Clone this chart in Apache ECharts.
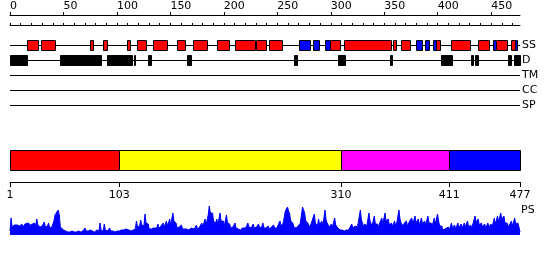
<!DOCTYPE html>
<html><head><meta charset="utf-8">
<script src="https://cdn.jsdelivr.net/npm/echarts@6/dist/echarts.min.js"></script>
<style>html,body{margin:0;padding:0;background:#fff}#c{width:550px;height:260px}</style>
</head><body><div id="c"></div>
<script>
const SEQ_LENGTH = 477;
const trackNames = ['SS', 'D', 'TM', 'CC', 'SP'];
// secondary structure: helix (red) and strand (blue) segments [start, end]
const helixSegments = [[16,26],[29,42],[75,78],[87,91],[109,112],[119,127],[134,147],[156,164],[171,184],[194,205],[210,229],[230,239],[242,254],[299,309],[312,356],[358,361],[366,374],[398,402],[412,430],[438,448],[455,465],[469,472]];
const strandSegments = [[270,281],[283,289],[295,299],[380,385],[388,392],[396,398],[452,455],[472,474]];
// disorder segments
const disorderSegments = [[0,16],[47,85],[91,114],[116,117],[129,132],[166,169],[266,268],[307,313],[355,357],[403,413],[431,433],[435,438],[466,469],[471,477]];
// domain boundaries and colours
const domainBounds = [1, 103, 310, 411, 477];
const domainColors = ['#ff0000', '#ffff00', '#ff00ff', '#0000ff'];
// ruler ticks / labels
const rulerMinorTicks = [0,10,20,30,40,50,60,70,80,90,100,110,120,130,140,150,160,170,180,190,200,210,220,230,240,250,260,270,280,290,300,310,320,330,340,350,360,370,380,390,400,410,420,430,440,450,460,470];
const rulerLabels = [0,50,100,150,200,250,300,350,400,450];
// PS profile
const psResidue = [1,2,3,5,6,8,10,12,13,15,16,18,20,22,23,24,25,26,27,29,31,33,34,36,37,38,40,42,43,44,46,47,48,49,51,53,55,57,59,61,63,65,67,69,71,72,74,76,78,80,82,84,85,86,88,89,90,92,94,95,97,99,101,103,105,106,107,109,110,112,114,116,118,119,120,122,123,124,126,127,128,130,131,133,135,136,138,139,140,142,144,145,147,148,150,151,153,154,156,157,159,161,162,164,166,168,170,171,173,175,176,178,180,181,183,184,186,187,188,190,191,193,194,195,197,198,200,201,203,204,206,207,209,211,212,214,216,218,219,221,223,224,226,228,229,231,233,234,236,237,238,240,242,243,245,247,248,250,251,253,254,256,258,260,261,262,263,265,266,268,270,272,274,275,276,277,279,280,282,283,285,286,287,288,289,290,292,293,295,296,297,299,301,302,304,305,307,309,311,313,315,317,318,320,321,323,325,326,328,329,330,331,332,334,336,337,338,339,341,342,344,345,346,348,349,351,352,354,355,357,358,360,361,362,364,365,366,368,369,371,372,374,376,377,379,380,382,383,385,386,388,389,391,392,394,395,397,398,400,401,402,404,405,407,408,410,411,413,414,416,417,419,420,422,423,425,426,428,429,431,432,433,435,436,438,439,441,442,444,445,447,448,450,451,453,454,456,457,459,460,462,463,465,466,469,470,472,473,475,476,477];
const psScore = [4,17,8,10,8,10,9,11,8,11,9,12,10,11,9,12,9,16,10,8,9,13,8,9,12,7,8,14,20,18,25,20,8,6,5,4,3,3,4,3,3,4,3,4,7,4,4,5,4,3,5,4,12,5,4,11,5,4,7,4,4,3,4,4,5,7,5,6,4,5,4,5,6,14,8,9,15,10,9,21,12,11,6,6,7,5,7,11,7,9,12,8,14,9,16,10,22,14,12,7,8,10,6,6,6,5,7,5,6,10,6,8,12,8,16,10,20,29,22,22,14,12,16,10,22,14,14,9,20,12,11,7,8,12,7,6,5,7,5,7,12,8,7,11,7,8,11,7,8,12,7,7,9,6,8,10,7,7,5,14,9,12,24,28,24,21,14,12,8,7,9,12,28,25,22,14,12,8,11,9,21,12,12,9,16,10,14,9,25,15,12,8,11,8,17,10,7,5,5,4,5,5,6,11,7,9,8,12,25,15,12,8,11,9,22,14,12,9,19,11,11,8,12,17,11,22,14,16,10,12,9,14,9,12,25,16,12,9,12,14,9,14,17,11,19,12,16,10,17,11,14,10,19,12,12,9,17,11,21,14,9,9,5,6,5,8,5,12,7,10,6,12,7,11,7,12,8,14,8,10,7,8,19,13,16,10,12,8,11,7,12,8,11,8,17,11,19,13,22,16,19,12,12,8,14,9,17,11,12,8,3];

const FONT = 'DejaVu Sans';
const txt = { fontFamily: FONT, fontSize: 11, color: '#000' };

function segRenderer(color, trackIdx) {
  return function (params, api) {
    const s = api.coord([api.value(0), trackIdx]);
    const e = api.coord([api.value(1), trackIdx]);
    const x0 = Math.round(s[0]) + 0.5, x1 = Math.round(e[0]) + 0.5;
    return { type: 'rect', shape: { x: x0, y: Math.round(s[1]) - 5 + 0.5, width: Math.max(1, x1 - x0), height: 10 },
      style: { fill: color, stroke: '#000', lineWidth: 1 } };
  };
}

const chart = echarts.init(document.getElementById('c'), null, { renderer: 'canvas' });
chart.setOption({
  animation: false,
  backgroundColor: '#fff',
  title: { text: 'PS', left: 521, top: 205, padding: 0, textStyle: { fontFamily: FONT, fontSize: 11, fontWeight: 'normal', color: '#000' } },
  grid: [
    { left: 10, right: 30, top: 45, height: 60, outerBoundsMode: 'none' },   // tracks
    { left: 10, right: 30, top: 15, height: 10, outerBoundsMode: 'none' },   // ruler
    { left: 10, right: 30, top: 150, height: 21, outerBoundsMode: 'none' },  // domains
    { left: 10, right: 30, top: 205, height: 30, outerBoundsMode: 'none' }   // PS
  ],
  xAxis: [
    { gridIndex: 0, type: 'value', min: 0, max: SEQ_LENGTH, show: false },
    { gridIndex: 1, type: 'value', min: 0, max: SEQ_LENGTH, position: 'top',
      axisLine: { lineStyle: { color: '#000', width: 1 } },
      axisTick: { length: 2, customValues: rulerMinorTicks, lineStyle: { color: '#000' } },
      axisLabel: { show: false }, splitLine: { show: false } },
    { gridIndex: 1, type: 'value', min: 0, max: SEQ_LENGTH, position: 'top',
      axisLine: { lineStyle: { color: '#000', width: 1 } },
      axisTick: { length: 3, customValues: rulerLabels, lineStyle: { color: '#000' } },
      axisLabel: Object.assign({ customValues: rulerLabels, align: 'left', margin: 3 }, txt),
      splitLine: { show: false } },
    { gridIndex: 2, type: 'value', min: 1, max: SEQ_LENGTH, show: false },
    { gridIndex: 2, type: 'value', min: 1, max: SEQ_LENGTH, position: 'bottom', offset: 11,
      axisLine: { lineStyle: { color: '#000', width: 1 } },
      axisTick: { length: 5, customValues: domainBounds, lineStyle: { color: '#000' } },
      axisLabel: Object.assign({ customValues: domainBounds, margin: 8 }, txt),
      splitLine: { show: false } },
    { gridIndex: 3, type: 'value', min: 1, max: SEQ_LENGTH, show: false }
  ],
  yAxis: [
    { gridIndex: 0, type: 'category', data: trackNames, inverse: true, boundaryGap: false, position: 'right',
      axisLine: { show: false }, axisTick: { show: false },
      axisLabel: Object.assign({ margin: 2, interval: 0 }, txt),
      splitLine: { show: true, interval: 0, lineStyle: { color: '#000', width: 1 } } },
    { gridIndex: 1, type: 'value', show: false },
    { gridIndex: 2, type: 'value', min: 0, max: 1, show: false },
    { gridIndex: 3, type: 'value', min: 0, max: 30, show: false }
  ],
  series: [
    { type: 'custom', xAxisIndex: 0, yAxisIndex: 0, data: helixSegments, renderItem: segRenderer('#ff0000', 0), z: 3 },
    { type: 'custom', xAxisIndex: 0, yAxisIndex: 0, data: strandSegments, renderItem: segRenderer('#0000ff', 0), z: 3 },
    { type: 'custom', xAxisIndex: 0, yAxisIndex: 0, data: disorderSegments, renderItem: segRenderer('#000000', 1), z: 3 },
    { type: 'custom', xAxisIndex: 3, yAxisIndex: 2,
      data: domainColors.map((c, i) => [domainBounds[i], domainBounds[i + 1]]),
      renderItem: function (params, api) {
        const s = api.coord([api.value(0), 1]);
        const e = api.coord([api.value(1), 0]);
        const x0 = Math.round(s[0]) + 0.5, x1 = Math.round(e[0]) + 0.5;
        const y0 = Math.round(s[1]) + 0.5, y1 = Math.round(e[1]) - 0.5;
        return { type: 'rect', shape: { x: x0, y: y0, width: x1 - x0, height: y1 - y0 },
          style: { fill: domainColors[params.dataIndex], stroke: '#000', lineWidth: 1 } };
      } },
    { type: 'line', xAxisIndex: 5, yAxisIndex: 3, data: psResidue.map((r, i) => [r, psScore[i]]),
      showSymbol: false, symbol: 'none', lineStyle: { color: '#0000ff', width: 1 },
      areaStyle: { color: '#0000ff', opacity: 1 }, itemStyle: { color: '#0000ff' } }
  ]
});
</script></body></html>
